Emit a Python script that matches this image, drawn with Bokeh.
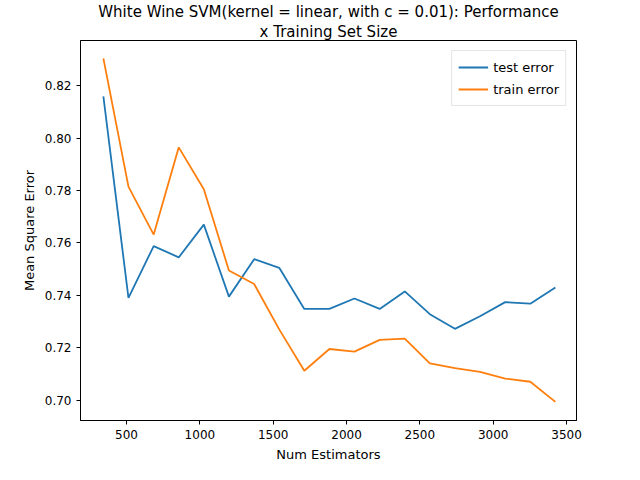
from bokeh.plotting import figure
from bokeh.models import Range1d, Legend, LegendItem, Title, CustomJSTickFormatter
from bokeh.embed import file_html
from bokeh.resources import INLINE

sizes = [342, 513, 685, 856, 1027, 1198, 1370, 1541, 1712, 1883, 2054, 2226, 2397, 2568, 2739, 2910, 3082, 3253, 3424]
test_err = [0.8160, 0.7390, 0.7588, 0.7545, 0.7670, 0.7395, 0.7538, 0.7505, 0.7348, 0.7348, 0.7388, 0.7348, 0.7415, 0.7328, 0.7272, 0.7320, 0.7374, 0.7368, 0.7430]
train_err = [0.8305, 0.7815, 0.7632, 0.7965, 0.7805, 0.7495, 0.7443, 0.7270, 0.7112, 0.7195, 0.7185, 0.7230, 0.7235, 0.7140, 0.7122, 0.7108, 0.7082, 0.7070, 0.6993]
title_lines = ["White Wine SVM(kernel = linear, with c = 0.01): Performance", "x Training Set Size"]

p = figure(width=624, height=464, output_backend="svg", toolbar_location=None,
           x_range=Range1d(186, 3568), y_range=Range1d(0.6922, 0.8373),
           min_border_left=80, min_border_right=48, min_border_top=10, min_border_bottom=36)
for line in reversed(title_lines):
    p.add_layout(Title(text=line, align="center", text_font="DejaVu Sans", text_font_size="15px",
                       text_font_style="normal", text_color="black", standoff=0), "above")
p.xgrid.visible = False
p.ygrid.visible = False
p.outline_line_color = "black"
p.xaxis.axis_label = "Num Estimators"
p.yaxis.axis_label = "Mean Square Error"
for ax in (p.xaxis[0], p.yaxis[0]):
    ax.axis_label_text_font = "DejaVu Sans"
    ax.axis_label_text_font_size = "13px"
    ax.axis_label_text_font_style = "normal"
    ax.axis_label_text_color = "black"
    ax.major_label_text_font = "DejaVu Sans"
    ax.major_label_text_font_size = "12px"
    ax.major_label_text_color = "black"
    ax.minor_tick_line_color = None
    ax.major_tick_in = 0
    ax.major_tick_out = 4
    ax.axis_line_color = "black"
    ax.major_tick_line_color = "black"
p.xaxis.ticker = [500, 1000, 1500, 2000, 2500, 3000, 3500]
p.yaxis.ticker = [0.70, 0.72, 0.74, 0.76, 0.78, 0.80, 0.82]
p.yaxis.formatter = CustomJSTickFormatter(code="return tick.toFixed(2);")

r1 = p.line(sizes, test_err, line_color="#1f77b4", line_width=1.8)
r2 = p.line(sizes, train_err, line_color="#ff7f0e", line_width=1.8)
leg = Legend(items=[LegendItem(label="test error", renderers=[r1]),
                    LegendItem(label="train error", renderers=[r2])],
             location="top_right", label_text_font="DejaVu Sans", label_text_font_size="13px",
             label_text_color="black", border_line_color="#cccccc", spacing=2, padding=6, glyph_width=30)
p.add_layout(leg)

open("out.html", "w").write(file_html(p, INLINE))
